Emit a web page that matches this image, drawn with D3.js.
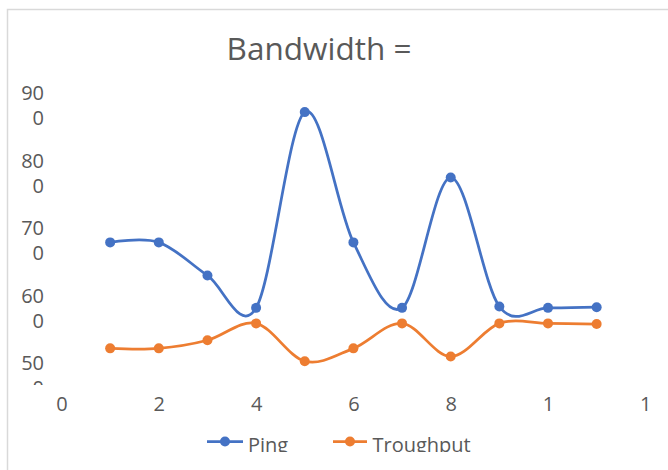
<!DOCTYPE html>
<html>
<head>
<meta charset="utf-8">
<script src="https://cdn.jsdelivr.net/npm/d3@7"></script>
<style>
  html, body { margin: 0; padding: 0; background: #fff; }
  svg { display: block; }
  text { font-family: "Open Sans", sans-serif; fill: #595959; }
</style>
</head>
<body>
<svg id="chart" width="668" height="470"></svg>
<script>
const title = "Bandwidth =";
const xValues = [1, 2, 3, 4, 5, 6, 7, 8, 9, 10, 11];
const ping = [695, 695, 646, 598, 888, 695, 598, 791, 600, 598, 599];
const troughput = [538, 538, 550, 575, 519, 538, 575, 526, 575, 575, 574];
const seriesNames = ["Ping", "Troughput"];
const yTicks = [500, 600, 700, 800, 900];
const xTicks = [0, 2, 4, 6, 8, 10, 12];

const colors = ["#4472C4", "#ED7D31"];
const W = 668, H = 470;
const svg = d3.select("#chart");

// clip paths
const defs = svg.append("defs");
defs.append("clipPath").attr("id", "clipY").append("rect")
  .attr("x", 0).attr("y", 0).attr("width", W).attr("height", 385);
defs.append("clipPath").attr("id", "clipX").append("rect")
  .attr("x", 0).attr("y", 0).attr("width", W).attr("height", 421);
defs.append("clipPath").attr("id", "clipL").append("rect")
  .attr("x", 0).attr("y", 0).attr("width", W).attr("height", 452);

// frame
svg.append("path")
  .attr("d", `M7.5,${H} V9.5 H${W}`)
  .attr("fill", "none").attr("stroke", "#d9d9d9").attr("stroke-width", 1.5);

// title
svg.append("text")
  .attr("x", 319).attr("y", 60)
  .attr("text-anchor", "middle")
  .style("font-size", "31.5px")
  .text(title);

const x = d3.scaleLinear().domain([0, 12]).range([61.5, 645.3]);
const y = d3.scaleLinear().domain([500, 900]).range([374, 104]);

// Y axis
const yAxis = svg.append("g")
  .attr("clip-path", "url(#clipY)")
  .append("g")
  .attr("transform", "translate(44,0)")
  .call(d3.axisLeft(y).tickValues(yTicks).tickSize(0).tickPadding(0).tickFormat(d3.format("d")));
yAxis.select(".domain").remove();
yAxis.selectAll(".tick text").each(function(d) {
  const s = String(d);
  const t = d3.select(this);
  t.text(null).attr("x", 0).attr("dy", null).attr("y", 0)
    .attr("text-anchor", "end").attr("fill", "#595959")
    .style("font-size", "20px").style("font-family", "'Open Sans', sans-serif");
  t.append("tspan").attr("x", 0).attr("y", -4.5).text(s.slice(0, 2));
  t.append("tspan").attr("x", 0).attr("y", 20.5).text(s.slice(2));
});

// X axis
const xAxis = svg.append("g")
  .attr("clip-path", "url(#clipX)")
  .append("g")
  .attr("transform", "translate(0,411)")
  .call(d3.axisBottom(x).tickValues(xTicks).tickSize(0).tickPadding(0).tickFormat(d3.format("d")));
xAxis.select(".domain").remove();
xAxis.selectAll(".tick text").each(function(d) {
  const s = String(d);
  const t = d3.select(this);
  t.text(null).attr("y", 0).attr("dy", null)
    .attr("text-anchor", "middle").attr("fill", "#595959")
    .style("font-size", "20px").style("font-family", "'Open Sans', sans-serif");
  t.append("tspan").attr("x", 0).attr("y", 0).text(s.slice(0, 1));
  if (s.length > 1) t.append("tspan").attr("x", 0).attr("y", 25).text(s.slice(1));
});

// series
const series = [ping, troughput];
const line = d3.line()
  .x((d, i) => x(xValues[i]))
  .y(d => y(d))
  .curve(d3.curveCardinal.tension(0));

series.forEach((vals, si) => {
  const g = svg.append("g");
  g.append("path")
    .datum(vals)
    .attr("d", line)
    .attr("fill", "none")
    .attr("stroke", colors[si])
    .attr("stroke-width", 2.75)
    .attr("stroke-linecap", "round");
  g.selectAll("circle")
    .data(vals)
    .join("circle")
    .attr("cx", (d, i) => x(xValues[i]))
    .attr("cy", d => y(d))
    .attr("r", 5)
    .attr("fill", colors[si]);
});

// legend
const legend = svg.append("g").attr("clip-path", "url(#clipL)");
const legendItems = [
  { x0: 207, x1: 243, tx: 248 },
  { x0: 333, x1: 367, tx: 372.5 }
];
legendItems.forEach((it, i) => {
  const g = legend.append("g");
  g.append("line")
    .attr("x1", it.x0).attr("x2", it.x1)
    .attr("y1", 441.5).attr("y2", 441.5)
    .attr("stroke", colors[i]).attr("stroke-width", 2.75);
  g.append("circle")
    .attr("cx", (it.x0 + it.x1) / 2).attr("cy", 441.5).attr("r", 5)
    .attr("fill", colors[i]);
  g.append("text")
    .attr("x", it.tx).attr("y", 451.5)
    .style("font-size", "20px")
    .text(seriesNames[i]);
});
</script>
</body>
</html>
